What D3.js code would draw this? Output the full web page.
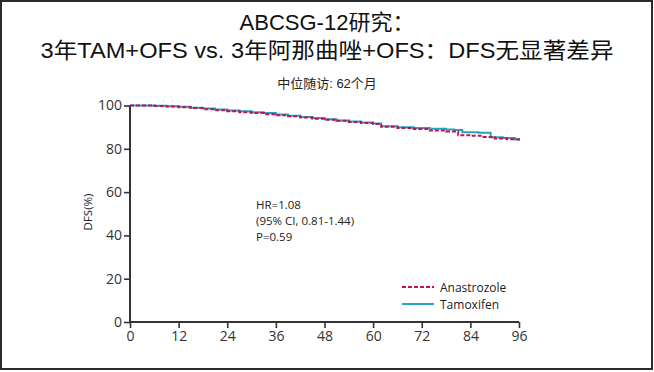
<!DOCTYPE html>
<html>
<head>
<meta charset="utf-8">
<script src="https://cdn.jsdelivr.net/npm/d3@7"></script>
<style>
  body { margin: 0; background: #fff; }
  svg { display: block; }
</style>
</head>
<body>
<div id="chart"></div>
<script>
// data (months, DFS %)
var anaMonths = [0, 3, 6, 9, 12, 15, 18, 21, 24, 27, 30, 33, 36, 39, 42, 45, 48, 51, 54, 57, 60, 62, 66, 70, 74, 78, 81, 84, 87, 90, 93, 96];
var anaValues = [100, 100, 99.8, 99.5, 99.2, 98.8, 98.3, 97.8, 97.3, 96.9, 96.5, 96.0, 95.5, 95.0, 94.4, 93.9, 93.4, 92.9, 92.4, 91.9, 91.5, 90.2, 89.6, 89.1, 88.4, 88.0, 86.3, 86.0, 85.5, 84.8, 84.4, 83.8];
var tamMonths = [0, 3, 6, 9, 12, 15, 18, 21, 24, 27, 30, 33, 36, 39, 42, 45, 48, 51, 54, 57, 60, 62, 66, 70, 74, 78, 80, 82, 86, 89, 92, 95, 96];
var tamValues = [100, 100, 99.9, 99.7, 99.4, 99.0, 98.6, 98.1, 97.7, 97.3, 96.9, 96.5, 95.8, 95.3, 94.7, 94.2, 93.7, 93.1, 92.6, 92.1, 91.7, 90.4, 90.0, 89.6, 89.3, 88.9, 88.7, 87.6, 87.4, 85.3, 85.0, 84.3, 84.0];
var xTicks = [0, 12, 24, 36, 48, 60, 72, 84, 96];
var yTicks = [0, 20, 40, 60, 80, 100];
var titleLines = ["ABCSG-12研究：", "3年TAM+OFS vs. 3年阿那曲唑+OFS：DFS无显著差异"];
var subtitle = "中位随访: 62个月";
var statLines = ["HR=1.08", "(95% CI, 0.81-1.44)", "P=0.59"];
var seriesNames = ["Anastrozole", "Tamoxifen"];

var W = 654, H = 372;
var svg = d3.select("#chart").append("svg")
  .attr("width", W)
  .attr("height", H);

// frame
svg.append("rect")
  .attr("x", 1).attr("y", 1)
  .attr("width", W - 3).attr("height", H - 4)
  .attr("fill", "#fff")
  .attr("stroke", "#2b2b2b")
  .attr("stroke-width", 2);

var cjk = "'Liberation Sans', 'Noto Sans CJK SC', sans-serif";
var latin = "'Open Sans', 'Liberation Sans', sans-serif";

// titles
var titleWidths = [null, 573];
svg.selectAll(".title")
  .data(titleLines)
  .enter().append("text")
  .attr("class", "title")
  .attr("x", 327)
  .attr("y", function(d, i) { return 30 + i * 28; })
  .attr("text-anchor", "middle")
  .attr("font-family", cjk)
  .attr("font-size", 22)
  .attr("fill", "#111")
  .each(function(d, i) {
    if (titleWidths[i]) d3.select(this).attr("textLength", titleWidths[i]).attr("lengthAdjust", "spacingAndGlyphs");
  })
  .text(function(d) { return d; });

svg.append("text")
  .attr("x", 327).attr("y", 88)
  .attr("text-anchor", "middle")
  .attr("font-family", cjk)
  .attr("font-size", 13)
  .attr("fill", "#222")
  .text(subtitle);

var x = d3.scaleLinear().domain([0, 96]).range([130, 519]);
var y = d3.scaleLinear().domain([0, 100]).range([322, 105.5]);

var g = svg.append("g");

// axes
var xAxis = g.append("g")
  .attr("transform", "translate(0," + y(0) + ")")
  .call(d3.axisBottom(x).tickValues(xTicks).tickSize(6).tickPadding(3));
var yAxis = g.append("g")
  .attr("transform", "translate(" + x(0) + ",0)")
  .call(d3.axisLeft(y).tickValues(yTicks).tickSize(6).tickPadding(2));

[xAxis, yAxis].forEach(function(a) {
  a.select(".domain").attr("stroke", "#333").attr("stroke-width", 2);
  a.selectAll(".tick line").attr("stroke", "#333").attr("stroke-width", 1.6);
  a.selectAll(".tick text")
    .attr("font-family", latin)
    .attr("font-size", 14)
    .attr("fill", "#333");
});
xAxis.select(".domain").attr("d", "M" + x(0) + ",0H" + x(96));
yAxis.select(".domain").attr("d", "M0," + y(0) + "V" + y(100));

svg.append("text")
  .attr("transform", "translate(92,212) rotate(-90)")
  .attr("text-anchor", "middle")
  .attr("font-family", latin)
  .attr("font-size", 11.5)
  .attr("fill", "#222")
  .text("DFS(%)");

// curves
var line = d3.line()
  .x(function(d) { return x(d[0]); })
  .y(function(d) { return y(d[1]); })
  .curve(d3.curveStepAfter);

var tamData = d3.zip(tamMonths, tamValues);
var anaData = d3.zip(anaMonths, anaValues);

g.append("path")
  .attr("d", line(tamData))
  .attr("fill", "none")
  .attr("stroke", "#23a3c9")
  .attr("stroke-width", 2);

g.append("path")
  .attr("d", line(anaData))
  .attr("fill", "none")
  .attr("stroke", "#c2134e")
  .attr("stroke-width", 2)
  .attr("stroke-dasharray", "4,2");

// stats text
svg.selectAll(".stat")
  .data(statLines)
  .enter().append("text")
  .attr("class", "stat")
  .attr("x", 256)
  .attr("y", function(d, i) { return 209 + i * 16; })
  .attr("font-family", latin)
  .attr("font-size", 11.5)
  .attr("fill", "#222")
  .text(function(d) { return d; });

// legend
var legend = svg.append("g");
var legendStyle = [
  { color: "#c2134e", dash: "4,2" },
  { color: "#23a3c9", dash: null }
];
seriesNames.forEach(function(name, i) {
  var ly = 287 + i * 17;
  legend.append("line")
    .attr("x1", 402).attr("x2", 434)
    .attr("y1", ly).attr("y2", ly)
    .attr("stroke", legendStyle[i].color)
    .attr("stroke-width", 2)
    .attr("stroke-dasharray", legendStyle[i].dash);
  legend.append("text")
    .attr("x", 440).attr("y", ly + 4.5)
    .attr("font-family", latin)
    .attr("font-size", 12)
    .attr("fill", "#222")
    .text(name);
});
</script>
</body>
</html>
